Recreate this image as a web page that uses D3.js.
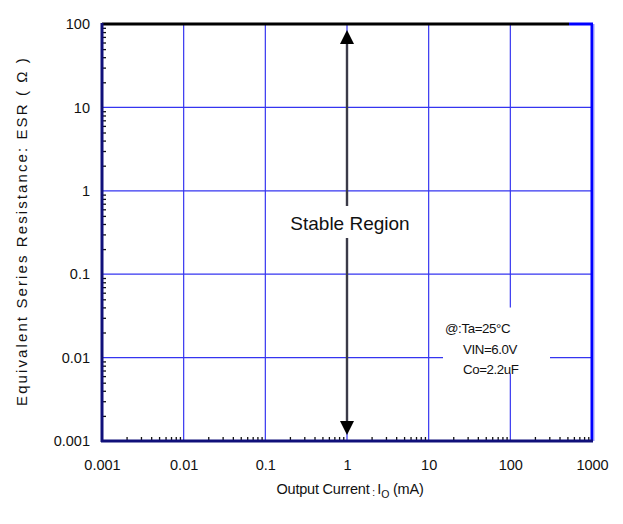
<!DOCTYPE html>
<html><head><meta charset="utf-8">
<script src="https://cdn.jsdelivr.net/npm/d3@7"></script>
<style>body{margin:0;background:#fff}svg{display:block}text{font-family:"Liberation Sans",Arial,sans-serif}</style>
</head><body><svg id="c" width="623" height="524"></svg>
<script>
const xTicks = [0.001, 0.01, 0.1, 1, 10, 100, 1000];
const xTickLabels = ["0.001", "0.01", "0.1", "1", "10", "100", "1000"];
const yTicks = [0.001, 0.01, 0.1, 1, 10, 100];
const yTickLabels = ["0.001", "0.01", "0.1", "1", "10", "100"];
const arrowCurrent = [1];
const arrowRange = [0.00118, 85];
const regionLabel = ["Stable Region"];
const regionLabelY = [0.4];
const conditions = ["@:Ta=25°C", "VIN=6.0V", "Co=2.2uF"];

const svg = d3.select("#c");
const L = 102, R = 592, T = 24, B = 441;
const x = d3.scaleLog().domain([0.001, 1000]).range([L, R]);
const y = d3.scaleLog().domain([0.001, 100]).range([B, T]);
const grid = "#3535f0";

// grid
svg.append("g").selectAll("line").data(xTicks.slice(1, -1)).join("line")
  .attr("x1", d => x(d)).attr("x2", d => x(d)).attr("y1", T).attr("y2", B)
  .attr("stroke", grid).attr("stroke-width", 1.2);
svg.append("g").selectAll("line").data(yTicks.slice(1, -1)).join("line")
  .attr("y1", d => y(d)).attr("y2", d => y(d)).attr("x1", L).attr("x2", R)
  .attr("stroke", grid).attr("stroke-width", 1.2);

// minor ticks
const minorX = [], minorY = [];
for (let e = -3; e < 3; e++) for (let m = 2; m <= 9; m++) minorX.push(m * Math.pow(10, e));
for (let e = -3; e < 2; e++) for (let m = 2; m <= 9; m++) minorY.push(m * Math.pow(10, e));
const xAxisMinor = d3.axisBottom(x).tickValues(minorX).tickSize(-4).tickFormat("");
const gxm = svg.append("g").attr("transform", `translate(0,${B})`).call(xAxisMinor);
gxm.select(".domain").remove();
gxm.selectAll("line").attr("stroke", "#111").attr("stroke-width", 1.3);
const yAxisMinor = d3.axisLeft(y).tickValues(minorY).tickSize(-4).tickFormat("");
const gym = svg.append("g").attr("transform", `translate(${L},0)`).call(yAxisMinor);
gym.select(".domain").remove();
gym.selectAll("line").attr("stroke", "#111").attr("stroke-width", 1.3);

// white boxes behind labels
svg.append("rect").attr("x", 443).attr("y", y(0.0125) - 42).attr("width", 107).attr("height", 66).attr("fill", "#fff");

// arrow
const ax = x(arrowCurrent[0]);
svg.append("line").attr("x1", ax).attr("x2", ax).attr("y1", y(arrowRange[0]) - 10).attr("y2", y(arrowRange[1]) + 10)
  .attr("stroke", "#3a3a48").attr("stroke-width", 2.4);
svg.append("path").attr("d", `M${ax},${y(arrowRange[1])} l-7,14 l14,0 z`).attr("fill", "#000");
svg.append("path").attr("d", `M${ax},${y(arrowRange[0])} l-7,-14 l14,0 z`).attr("fill", "#000");

// Stable region label
const sy = y(regionLabelY[0]);
svg.append("rect").attr("x", ax - 64).attr("y", sy - 18).attr("width", 128).attr("height", 32).attr("fill", "#fff");
svg.append("text").attr("x", ax + 3).attr("y", sy + 6).attr("text-anchor", "middle")
  .attr("font-size", 19).attr("fill", "#111").text(regionLabel[0]);

// conditions
svg.append("g").selectAll("text").data(conditions).join("text")
  .attr("x", (d, i) => i === 0 ? 445 : 463)
  .attr("y", (d, i) => 333 + i * 20.5)
  .attr("font-size", 13.3).attr("fill", "#111").attr("letter-spacing", "-0.4")
  .text(d => d);

// frame
svg.append("line").attr("x1", L).attr("x2", 569).attr("y1", T).attr("y2", T).attr("stroke", "#000").attr("stroke-width", 3);
svg.append("line").attr("x1", 569).attr("x2", R + 1).attr("y1", T).attr("y2", T).attr("stroke", "#0000ff").attr("stroke-width", 3);
svg.append("line").attr("x1", R).attr("x2", R).attr("y1", T).attr("y2", B).attr("stroke", "#0000ff").attr("stroke-width", 3);
svg.append("line").attr("x1", R + 2).attr("x2", R + 2).attr("y1", T).attr("y2", B).attr("stroke", "#9a9aff").attr("stroke-width", 1);
svg.append("line").attr("x1", L - 1).attr("x2", R + 1).attr("y1", B).attr("y2", B).attr("stroke", "#10107a").attr("stroke-width", 3);
svg.append("line").attr("x1", L).attr("x2", L).attr("y1", T - 1).attr("y2", B + 1).attr("stroke", "#10107a").attr("stroke-width", 3);

// tick labels
const gx = svg.append("g").attr("transform", `translate(0,${B})`)
  .call(d3.axisBottom(x).tickValues(xTicks).tickSize(0).tickPadding(19).tickFormat((d, i) => xTickLabels[i]));
gx.select(".domain").remove();
gx.selectAll("text").attr("font-size", 14.5).attr("fill", "#111").attr("font-family", "Liberation Sans, Arial, sans-serif");
const gy = svg.append("g").attr("transform", `translate(${L},0)`)
  .call(d3.axisLeft(y).tickValues(yTicks).tickSize(0).tickPadding(12).tickFormat((d, i) => yTickLabels[i]));
gy.select(".domain").remove();
gy.selectAll("text").attr("font-size", 14.5).attr("fill", "#111").attr("font-family", "Liberation Sans, Arial, sans-serif");

// axis titles
const xt = svg.append("text").attr("x", 350).attr("y", 494).attr("text-anchor", "middle").attr("font-size", 14.5).attr("fill", "#111").attr("letter-spacing", "-0.2");
xt.append("tspan").text("Output Current");
xt.append("tspan").attr("font-size", 10).attr("dy", 2).text(" : ");
xt.append("tspan").attr("dy", -2).text("I");
xt.append("tspan").attr("font-size", 10.5).attr("dy", 4).text("O");
xt.append("tspan").attr("dy", -4).text(" (mA)");

svg.append("text").attr("transform", `translate(27,231) rotate(-90)`).attr("text-anchor", "middle")
  .attr("font-size", 15).attr("fill", "#111").attr("letter-spacing", "2.1")
  .text("Equivalent Series Resistance: ESR ( Ω )");
</script></body></html>
